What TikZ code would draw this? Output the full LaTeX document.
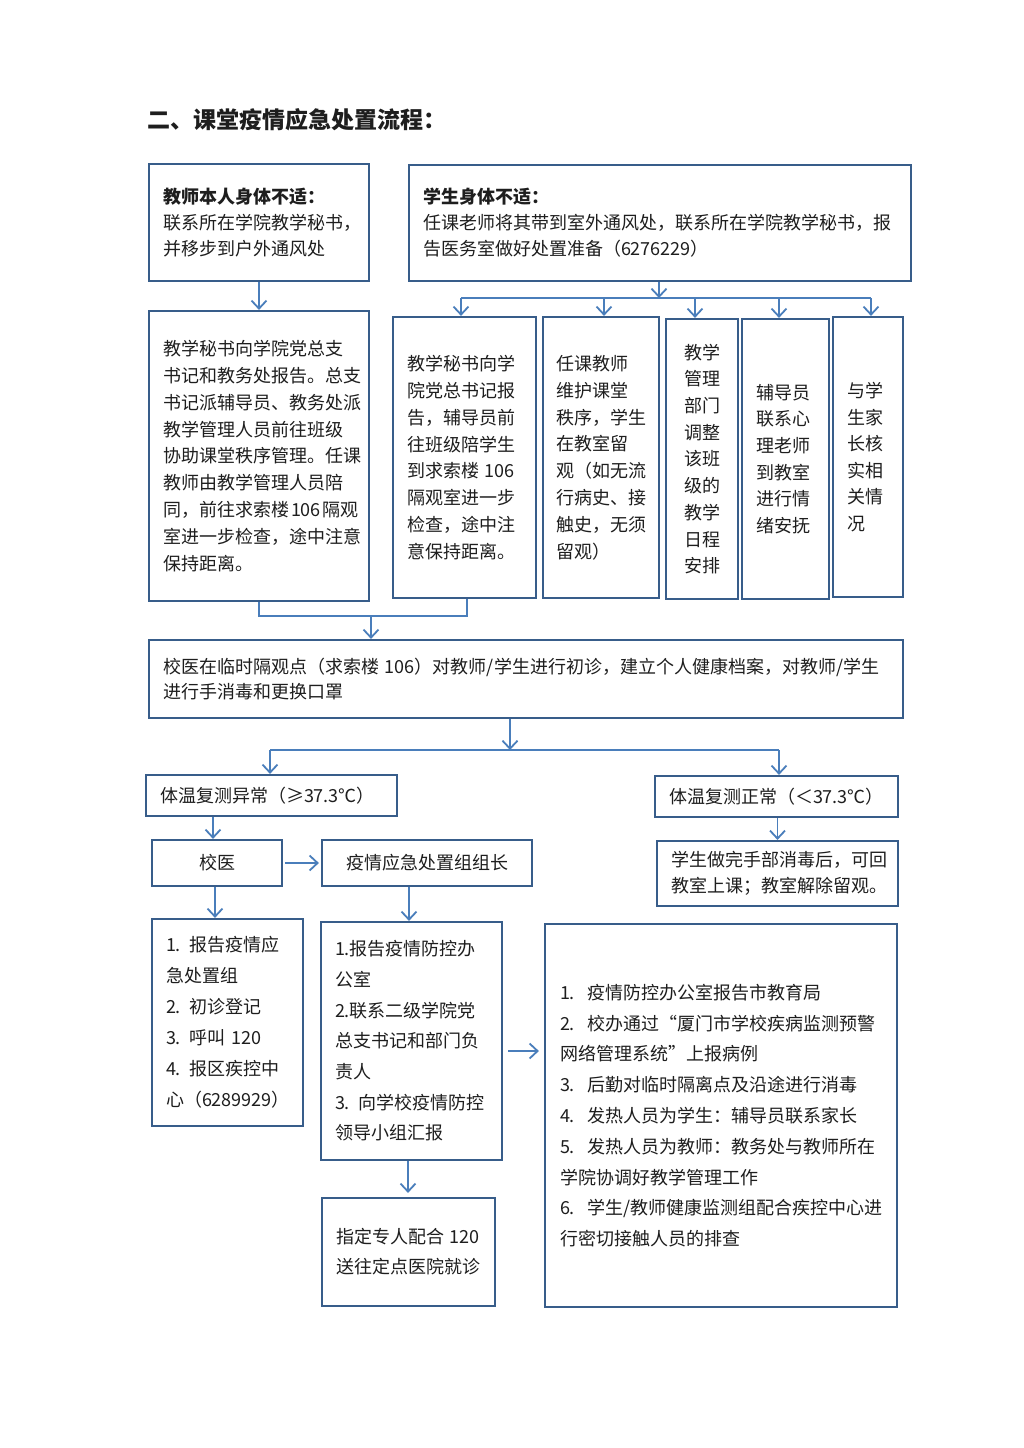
\documentclass[tikz,border=0pt]{standalone}
\usepackage{fontspec}
\setmainfont{Noto Sans CJK SC}
\usetikzlibrary{arrows.meta}
\definecolor{boxcol}{RGB}{56,93,138}
\definecolor{arrcol}{RGB}{74,126,187}
\definecolor{txt}{RGB}{30,30,30}
\begin{document}
\begin{tikzpicture}[x=1pt,y=-1pt,
 box/.style={draw=boxcol, line width=2.2pt, inner xsep=14pt, inner ysep=0pt, text=txt, align=left, anchor=center},
 fs/.style={font=\fontsize{18}{#1}\selectfont},
 conn/.style={draw=arrcol, line width=1.8pt},
 arr/.style={conn, -{Straight Barb[length=8pt,width=15pt]}},
]
\fill[white] (0,0) rectangle (1024,1448);
\useasboundingbox (0,0) rectangle (1024,1448);

\node[anchor=west, text=txt, font=\fontsize{23}{28}\selectfont\bfseries, inner sep=0pt] (title) at (147,120) {二、课堂疫情应急处置流程：};

% top row
\node[box, fs=26, minimum width=220pt, minimum height=117pt, text width=192pt] (A) at (259,222.5)
 {\textbf{教师本人身体不适：}\\联系所在学院教学秘书，\\并移步到户外通风处};
\node[box, fs=26, minimum width=502pt, minimum height=116pt, text width=474pt] (B) at (660,223)
 {\textbf{学生身体不适：}\\任课老师将其带到室外通风处，联系所在学院教学秘书，报\\告医务室做好处置准备（6276229）};

% second row
\node[box, fs=26.8, minimum width=220pt, minimum height=290pt, text width=192pt] (C) at (259,456)
 {教学秘书向学院党总支\\书记和教务处报告。总支\\书记派辅导员、教务处派\\教学管理人员前往班级\\协助课堂秩序管理。任课\\教师由教学管理人员陪\\\mbox{同，前往求索楼\hspace{2pt}106\hspace{2pt}隔观}\\室进一步检查，途中注意\\保持距离。};
\node[box, fs=26.8, minimum width=143pt, minimum height=281pt, text width=115pt] (D) at (464.5,457.5)
 {教学秘书向学\\院党总书记报\\告，辅导员前\\往班级陪学生\\到求索楼 106\\隔观室进一步\\检查，途中注\\意保持距离。};
\node[box, fs=26.8, minimum width=116pt, minimum height=281pt, text width=90pt, inner xsep=13pt] (E) at (601,457.5)
 {任课教师\\维护课堂\\秩序，学生\\在教室留\\观（如无流\\行病史、接\\触史，无须\\留观）};
\node[box, fs=26.7, minimum width=72pt, minimum height=280pt, text width=44pt, align=center] (F) at (702,459)
 {教学\\管理\\部门\\调整\\该班\\级的\\教学\\日程\\安排};
\node[box, fs=26.6, minimum width=87pt, minimum height=280pt, text width=59pt] (G) at (785.5,459)
 {辅导员\\联系心\\理老师\\到教室\\进行情\\绪安抚};
\node[box, fs=26.6, minimum width=70pt, minimum height=280pt, text width=42pt] (H) at (868,457)
 {与学\\生家\\长核\\实相\\关情\\况};

% middle
\node[box, fs=25.5, minimum width=754pt, minimum height=78pt, text width=726pt] (I) at (526,679)
 {校医在临时隔观点（求索楼 106）对教师/学生进行初诊，建立个人健康档案，对教师/学生\\进行手消毒和更换口罩};
\node[box, fs=26, minimum width=251pt, minimum height=41pt, text width=223pt] (J) at (271.5,795.5)
 {体温复测异常（≥37.3℃）};
\node[box, fs=26, minimum width=243pt, minimum height=41pt, text width=215pt] (K) at (776.5,796.5)
 {体温复测正常（＜37.3℃）};
\node[box, fs=26, minimum width=130pt, minimum height=46pt, text width=102pt, align=center] (L) at (217,863) {校医};
\node[box, fs=26, minimum width=210pt, minimum height=46pt, text width=182pt, align=center] (M) at (427,863) {疫情应急处置组组长};
\node[box, fs=26, minimum width=241pt, minimum height=65pt, text width=213pt] (N) at (777.5,873.5)
 {学生做完手部消毒后，可回\\教室上课；教室解除留观。};

% bottom
\node[box, fs=31, minimum width=151pt, minimum height=207pt, text width=123pt] (O) at (227.5,1022.5)
 {1. 报告疫情应\\急处置组\\2. 初诊登记\\3. 呼叫 120\\4. 报区疾控中\\心（6289929）};
\node[box, fs=30.7, minimum width=181pt, minimum height=238pt, text width=153pt] (P) at (411.5,1041)
 {1.报告疫情防控办\\公室\\2.联系二级学院党\\总支书记和部门负\\责人\\3. 向学校疫情防控\\领导小组汇报};
\node[box, fs=30, minimum width=173pt, minimum height=108pt, text width=145pt] (Q) at (408.5,1252)
 {指定专人配合 120\\送往定点医院就诊};
\node[box, fs=30.8, minimum width=350pt, minimum height=383pt, text width=322pt, inner xsep=15pt] (R) at (721,1115.5)
 {\makebox[27pt][l]{1.}疫情防控办公室报告市教育局\\
  \makebox[27pt][l]{2.}校办通过“厦门市学校疾病监测预警\\
  网络管理系统”上报病例\\
  \makebox[27pt][l]{3.}后勤对临时隔离点及沿途进行消毒\\
  \makebox[27pt][l]{4.}发热人员为学生：辅导员联系家长\\
  \makebox[27pt][l]{5.}发热人员为教师：教务处与教师所在\\
  学院协调好教学管理工作\\
  \makebox[27pt][l]{6.}学生/教师健康监测组配合疾控中心进\\
  行密切接触人员的排查};

% connectors: top
\draw[arr] (A.south) -- (C.north);
\coordinate (busB) at (659,298);
\coordinate (busL) at (461,298);
\coordinate (busE) at (604,298);
\coordinate (busF) at (695,298);
\coordinate (busG) at (779,298);
\coordinate (busR) at (871,298);
\draw[arr] (B.south -| busB) -- (busB);
\draw[conn] (busL) -- (busR);
\draw[arr] (busL) -- (busL |- D.north);
\draw[arr] (busE) -- (busE |- E.north);
\draw[arr] (busF) -- (busF |- F.north);
\draw[arr] (busG) -- (busG |- G.north);
\draw[arr] (busR) -- (busR |- H.north);

% C, D -> I
\coordinate (jC) at (259,616);
\coordinate (jD) at (467,616);
\coordinate (jI) at (371,616);
\draw[conn] (C.south) -- (jC) -- (jD) -- (jD |- D.south);
\draw[arr] (jI) -- (jI |- I.north);

% I -> J, K
\coordinate (bI) at (510,750);
\coordinate (bJ) at (270,750);
\coordinate (bK) at (779,750);
\draw[arr] (bI |- I.south) -- (bI);
\draw[conn] (bJ) -- (bK);
\draw[arr] (bJ) -- (bJ |- J.north);
\draw[arr] (bK) -- (bK |- K.north);

% lower flows
\coordinate (xJL) at (213,0);
\draw[arr] (xJL |- J.south) -- (xJL |- L.north);
\draw[arr] (N.north |- K.south) -- (N.north);
\draw[arr] ([xshift=2pt]L.east) -- ([xshift=-2pt]M.west);
\coordinate (xLO) at (215,0);
\draw[arr] (xLO |- L.south) -- (xLO |- O.north);
\coordinate (xMP) at (409,0);
\draw[arr] (xMP |- M.south) -- (xMP |- P.north);
\coordinate (xPQ) at (408,0);
\draw[arr] (xPQ |- P.south) -- ([yshift=4pt]xPQ |- Q.north);
\coordinate (yPR) at (0,1051);
\draw[arr] ([xshift=5pt]P.east |- yPR) -- ([xshift=-5pt]R.west |- yPR);
\end{tikzpicture}
\end{document}
